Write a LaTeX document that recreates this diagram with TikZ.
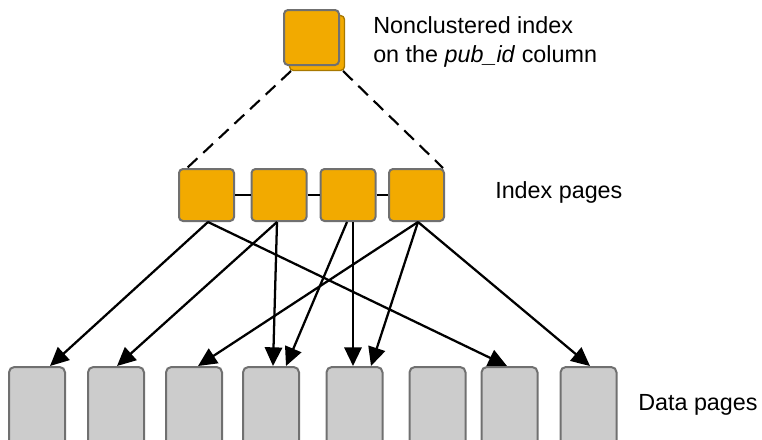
\documentclass[tikz,border=0pt]{standalone}
\usepackage{fontspec}
\setmainfont{Liberation Sans}
\usetikzlibrary{arrows.meta,calc}
\definecolor{idxorange}{HTML}{F2AA00}
\definecolor{boxedge}{HTML}{707070}
\definecolor{datagray}{HTML}{CCCCCC}
\definecolor{shadowedge}{HTML}{A87800}
\begin{document}
\begin{tikzpicture}[x=0.75pt,y=-0.75pt,
 idxpage/.style={draw=boxedge, line width=1.5pt, fill=idxorange, rounded corners=3pt, minimum width=41.25pt, minimum height=39pt, inner sep=0pt},
 rootpage/.style={draw=boxedge, line width=1.5pt, fill=idxorange, rounded corners=3pt, minimum width=41.25pt, minimum height=41.25pt, inner sep=0pt},
 shadowpage/.style={draw=shadowedge, line width=1pt, fill=idxorange, rounded corners=3pt, minimum width=41.25pt, minimum height=41.25pt, inner sep=0pt},
 datapage/.style={draw=boxedge, line width=1.5pt, fill=datagray, rounded corners=4pt, minimum width=42pt, minimum height=60pt, inner sep=0pt},
 ptr/.style={line width=1.7pt, -{Triangle[length=14pt,width=13pt]}},
 link/.style={line width=1.7pt},
 dashlink/.style={line width=1.6pt, dash pattern=on 10pt off 6pt},
 lbl/.style={font=\fontsize{17.5}{21.75}\selectfont, inner sep=0pt, align=left}]
\useasboundingbox (0,0) rectangle (762,439);
% root index
\node[shadowpage] (rootshadow) at (317,43) {};
\node[rootpage] (root) at (311.5,37.5) {};
% index pages
\node[idxpage] (i1) at (206.5,195) {};
\node[idxpage] (i2) at (279,195) {};
\node[idxpage] (i3) at (348,195) {};
\node[idxpage] (i4) at (416.5,195) {};
\draw[link] (i1.east) -- (i2.west);
\draw[link] (i2.east) -- (i3.west);
\draw[link] (i3.east) -- (i4.west);
% dashed links
\draw[dashlink] ($(root.south west)+(8,5)$) -- ($(i1.north west)+(9,0)$);
\draw[dashlink] ($(root.south east)+(3,5)$) -- ($(i4.north east)+(-2,0)$);
% data pages
\begin{scope}
\clip (0,0) rectangle (762,439);
\node[datapage] (d1) at (37,407) {};
\node[datapage] (d2) at (116,407) {};
\node[datapage] (d3) at (194,407) {};
\node[datapage] (d4) at (271,407) {};
\node[datapage] (d5) at (354.5,407) {};
\node[datapage] (d6) at (437.5,407) {};
\node[datapage] (d7) at (509.5,407) {};
\node[datapage] (d8) at (588.5,407) {};
\end{scope}
% pointers
\draw[ptr] ($(i1.south)+(1.5,0)$) -- ($(d1.north)+(13,0)$);
\draw[ptr] ($(i1.south)+(1.5,0)$) -- ($(d7.north)+(-2.5,0)$);
\draw[ptr] ($(i2.south)+(-2,0)$) -- ($(d2.north)+(1,0)$);
\draw[ptr] ($(i2.south)+(-2,0)$) -- ($(d4.north)+(2,0)$);
\draw[ptr] ($(i3.south)+(-1,0)$) -- ($(d4.north)+(15,0)$);
\draw[ptr] ($(i3.south)+(5,0)$) -- ($(d5.north)+(-1.5,0)$);
\draw[ptr] ($(i4.south)+(1.5,0)$) -- ($(d3.north)+(4,0)$);
\draw[ptr] ($(i4.south)+(1.5,0)$) -- ($(d5.north)+(16.5,0)$);
\draw[ptr] ($(i4.south)+(1.5,0)$) -- ($(d8.north)+(1.5,0)$);
% labels
\node[lbl, anchor=base west] (rootlbl) at (373,62) {Nonclustered index\\on the \textit{pub\_id} column};
\node[lbl, anchor=base west] (idxlbl) at (495,198) {Index pages};
\node[lbl, anchor=base west] (datalbl) at (638,410) {Data pages};
\end{tikzpicture}
\end{document}
